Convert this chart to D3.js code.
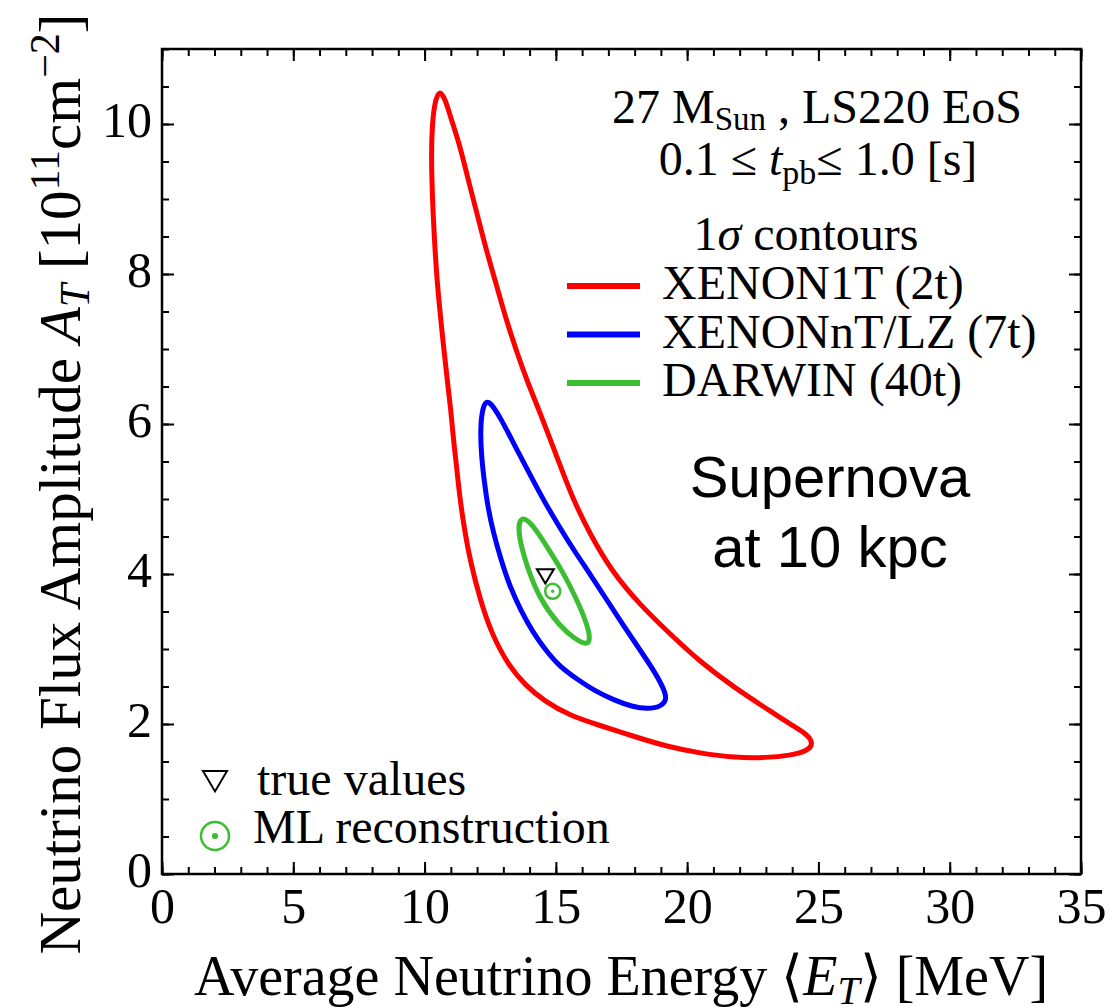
<!DOCTYPE html>
<html>
<head>
<meta charset="utf-8">
<script src="https://cdn.jsdelivr.net/npm/d3@7"></script>
<style>
  body { margin: 0; background: #fff; }
  text { font-family: "Liberation Serif", "Times New Roman", serif; fill: #000; }
</style>
</head>
<body>
<svg width="1110" height="1007"></svg>
<script>
// contour outlines, [<E_T> MeV, A_T 1e11 cm^-2]
var xenon1t = [
  [10.56, 10.47], [10.81, 10.31], [10.97, 10.11], [11.35, 9.71], [11.65, 9.27],
  [11.98, 8.83], [12.34, 8.33], [12.75, 7.84], [13.10, 7.40], [13.51, 6.96],
  [13.94, 6.54], [14.39, 6.16], [15.03, 5.57], [15.61, 5.03], [16.30, 4.53],
  [17.14, 4.03], [18.20, 3.59], [19.35, 3.20], [20.49, 2.83], [21.82, 2.48],
  [22.96, 2.22], [23.91, 2.00], [24.55, 1.87], [24.82, 1.74], [24.58, 1.64],
  [23.91, 1.58], [23.04, 1.55], [21.82, 1.55], [20.49, 1.61], [19.23, 1.70],
  [18.01, 1.83], [16.68, 1.98], [15.54, 2.11], [14.58, 2.30], [13.82, 2.52],
  [13.18, 2.79], [12.57, 3.19], [12.11, 3.66], [11.73, 4.19], [11.54, 4.55],
  [11.35, 4.99], [11.22, 5.43], [11.10, 5.79], [11.00, 6.19], [10.86, 6.60],
  [10.72, 7.04], [10.59, 7.49], [10.47, 7.93], [10.39, 8.37], [10.32, 8.83],
  [10.28, 9.23], [10.26, 9.63], [10.29, 9.98], [10.38, 10.28]
];
var xenonnt = [
  [12.41, 6.35], [12.90, 6.08], [13.51, 5.66], [14.01, 5.33], [14.52, 4.99],
  [15.08, 4.66], [15.66, 4.33], [16.30, 4.00], [16.93, 3.66], [17.56, 3.32],
  [18.20, 2.99], [18.72, 2.72], [19.10, 2.48], [19.24, 2.33], [19.00, 2.23],
  [18.51, 2.20], [17.90, 2.23], [17.21, 2.32], [16.49, 2.44], [15.84, 2.59],
  [15.16, 2.76], [14.62, 2.98], [14.13, 3.22], [13.67, 3.51], [13.25, 3.83],
  [12.91, 4.19], [12.62, 4.55], [12.41, 4.89], [12.28, 5.22], [12.17, 5.55],
  [12.12, 5.92], [12.20, 6.22]
];
var darwin = [
  [13.68, 4.79], [14.14, 4.65], [14.65, 4.37], [15.28, 4.02], [15.65, 3.76],
  [15.98, 3.52], [16.34, 3.17], [16.22, 3.04], [15.70, 3.14], [15.16, 3.30],
  [14.39, 3.66], [13.89, 4.10], [13.52, 4.58]
];
var trueValue = [14.6, 3.98];
var mlValue = [14.88, 3.77];

var seriesNames = ["XENON1T (2t)", "XENONnT/LZ (7t)", "DARWIN (40t)"];
var seriesColors = ["#ff0000", "#0000ff", "#3cbe32"];
var seriesData = [xenon1t, xenonnt, darwin];

var xMajor = [0, 5, 10, 15, 20, 25, 30, 35];
var xMinor = d3.range(0, 36, 1);
var yMajor = [0, 2, 4, 6, 8, 10];
var yMinor = d3.range(0, 11.01, 0.5);

var svg = d3.select("svg"),
    margin = {top: 49, right: 29, bottom: 133, left: 162},
    width = +svg.attr("width") - margin.left - margin.right,
    height = +svg.attr("height") - margin.top - margin.bottom;

var x = d3.scaleLinear().domain([0, 35]).range([0, width]),
    y = d3.scaleLinear().domain([0, 11]).range([height, 0]);

var g = svg.append("g")
    .attr("transform", "translate(" + margin.left + "," + margin.top + ")");

function tickAxis(axis, vals, size, labels) {
  return axis.tickValues(vals).tickSize(-size).tickFormat(labels ? d3.format("d") : "");
}

// bottom
g.append("g").attr("transform", "translate(0," + height + ")")
    .call(tickAxis(d3.axisBottom(x), xMinor, 7, false));
g.append("g").attr("class", "xlab").attr("transform", "translate(0," + height + ")")
    .call(tickAxis(d3.axisBottom(x), xMajor, 12, true));
// top
g.append("g").call(tickAxis(d3.axisTop(x), xMinor, 7, false));
g.append("g").call(tickAxis(d3.axisTop(x), xMajor, 12, false));
// left
g.append("g").call(tickAxis(d3.axisLeft(y), yMinor, 7, false));
g.append("g").attr("class", "ylab").call(tickAxis(d3.axisLeft(y), yMajor, 12, true));
// right
g.append("g").attr("transform", "translate(" + width + ",0)")
    .call(tickAxis(d3.axisRight(y), yMinor, 7, false));
g.append("g").attr("transform", "translate(" + width + ",0)")
    .call(tickAxis(d3.axisRight(y), yMajor, 12, false));

g.selectAll(".domain").remove();
g.selectAll(".tick line").attr("stroke", "#000").attr("stroke-width", 2);
g.selectAll(".xlab text")
    .attr("y", 49).attr("dy", 0)
    .attr("font-size", "50px").attr("font-family", "Liberation Serif");
g.selectAll(".ylab text")
    .attr("x", -10).attr("dy", "0.24em")
    .attr("font-size", "50px").attr("font-family", "Liberation Serif");

g.append("rect")
    .attr("width", width).attr("height", height)
    .attr("fill", "none").attr("stroke", "#000").attr("stroke-width", 2.5);

// contours, smoothed like the original contour plot
var line = d3.line()
    .x(function(d) { return x(d[0]); })
    .y(function(d) { return y(d[1]); })
    .curve(d3.curveBasisClosed);

g.selectAll(".contour")
    .data(seriesData)
  .enter().append("path")
    .attr("class", "contour")
    .attr("d", line)
    .attr("fill", "none")
    .attr("stroke", function(d, i) { return seriesColors[i]; })
    .attr("stroke-width", 5)
    .attr("stroke-linejoin", "round");

// markers
function triangle(sel, cx, cy, s) {
  sel.append("path")
    .attr("d", "M" + (cx - s) + "," + (cy - s * 0.75) + "L" + (cx + s) + "," + (cy - s * 0.75) +
               "L" + cx + "," + (cy + s * 0.95) + "Z")
    .attr("fill", "none").attr("stroke", "#000").attr("stroke-width", 2);
}
function odot(sel, cx, cy, r, sw) {
  sel.append("circle").attr("cx", cx).attr("cy", cy).attr("r", r)
    .attr("fill", "none").attr("stroke", "#3cbe32").attr("stroke-width", sw);
  sel.append("circle").attr("cx", cx).attr("cy", cy).attr("r", r * 0.22)
    .attr("fill", "#3cbe32");
}
triangle(g, x(trueValue[0]), y(trueValue[1]), 8.5);
odot(g, x(mlValue[0]), y(mlValue[1]), 7.5, 2.5);

// legends (in svg coords)
var legend = svg.append("g");
legend.append("text").attr("x", 817).attr("y", 123).attr("text-anchor", "middle")
    .attr("font-size", "48px")
    .call(function(t) {
      t.append("tspan").text("27 M");
      t.append("tspan").attr("font-size", "33px").attr("dy", 7).text("Sun");
      t.append("tspan").attr("dy", -7).text(" , LS220 EoS");
    });
legend.append("text").attr("x", 818).attr("y", 175).attr("text-anchor", "middle")
    .attr("font-size", "48px")
    .call(function(t) {
      t.append("tspan").text("0.1 \u2264 ");
      t.append("tspan").attr("font-style", "italic").text("t");
      t.append("tspan").attr("font-size", "34px").attr("dy", 9).text("pb");
      t.append("tspan").attr("dy", -9).text("\u2264 1.0 [s]");
    });
legend.append("text").attr("x", 806).attr("y", 250).attr("text-anchor", "middle")
    .attr("font-size", "48px")
    .call(function(t) {
      t.append("tspan").text("1");
      t.append("tspan").attr("font-style", "italic").text("\u03c3");
      t.append("tspan").text(" contours");
    });

var items = legend.selectAll(".item")
    .data(seriesNames)
  .enter().append("g")
    .attr("transform", function(d, i) { return "translate(0," + (286 + i * 48.5) + ")"; });
items.append("line")
    .attr("x1", 567).attr("x2", 640)
    .attr("stroke", function(d, i) { return seriesColors[i]; })
    .attr("stroke-width", 6);
items.append("text")
    .attr("x", 662).attr("y", 13)
    .attr("font-size", "48px")
    .text(function(d) { return d; });

legend.append("text").attr("x", 830).attr("y", 497).attr("text-anchor", "middle")
    .style("font-family", "Liberation Sans, Arial, sans-serif")
    .attr("font-size", "58px").text("Supernova");
legend.append("text").attr("x", 830).attr("y", 567).attr("text-anchor", "middle")
    .style("font-family", "Liberation Sans, Arial, sans-serif")
    .attr("font-size", "58px").text("at 10 kpc");

// marker legend
triangle(svg, 215, 780, 12);
legend.append("text").attr("x", 257).attr("y", 795).attr("font-size", "48px").text("true values");
odot(svg, 215, 836, 14, 2.5);
legend.append("text").attr("x", 253).attr("y", 843).attr("font-size", "48px").text("ML reconstruction");

// axis titles
svg.append("text")
    .attr("x", 621).attr("y", 995).attr("text-anchor", "middle")
    .attr("font-size", "56px")
    .call(function(t) {
      t.append("tspan").text("Average Neutrino Energy \u27e8");
      t.append("tspan").attr("font-style", "italic").text("E");
      t.append("tspan").attr("font-style", "italic").attr("font-size", "40px").attr("dy", 9).text("T");
      t.append("tspan").attr("dy", -9).text("\u27e9 [MeV]");
    });

svg.append("text")
    .attr("transform", "translate(80,484) rotate(-90)")
    .attr("text-anchor", "middle")
    .attr("font-size", "59px")
    .call(function(t) {
      t.append("tspan").text("Neutrino Flux Amplitude ");
      t.append("tspan").attr("font-style", "italic").text("A");
      t.append("tspan").attr("font-style", "italic").attr("font-size", "42px").attr("dy", 9).text("T");
      t.append("tspan").attr("dy", -9).text(" [10");
      t.append("tspan").attr("font-size", "42px").attr("dy", -21).text("11");
      t.append("tspan").attr("dy", 21).text("cm");
      t.append("tspan").attr("font-size", "42px").attr("dy", -21).text("\u22122");
      t.append("tspan").attr("dy", 21).text("]");
    });
</script>
</body>
</html>
